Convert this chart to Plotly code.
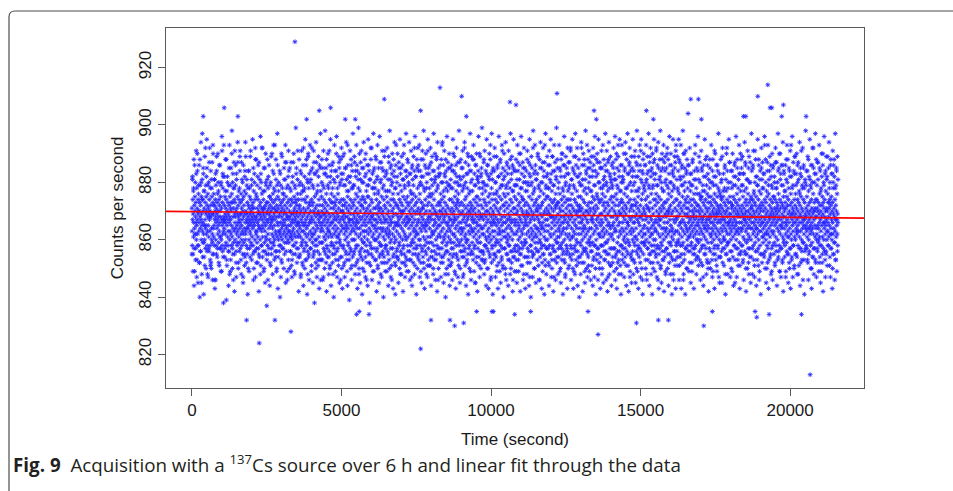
import numpy as np
import plotly.graph_objects as go

# ---------------- data ----------------
T_END = 21600          # seconds (6 h acquisition)
COUNT_BASE = 800       # values below are counts per second minus 800
COUNTS_TEXT = """
71 63 58 82 67 74 55 69 77 61 66 88 44 72 64 49 70 75 62 80 68 57 73 66 91 60 65 78 53 71 67 84 62 69 45 74 58 76 63 70 86 66 52 73 40 68 79 64 56 72 94 67 60 75 69 48 65 81 97 63
66 74 59 70 83 62 41 77 54 71 65 60 89 67 73 57 64 79 69 50 75 62 70 95 85 58 72 63 68 76 47 65 71 80 61 69 56 74 67 92 63 70 58 78 51 72 52 68 81 64 60 75 69 87 62 46 55 73 90 64
69 61 76 65 72 58 81 67 43 70 46 74 68 60 79 66 71 55 84 64 69 73 57 67 62 90 70 65 77 59 68 74 51 63 72 66 86 61 70 57 75 68 49 80 60 71 67 96 65 58 73 62 83 78 54 66 38 63 93 68
64 72 67 57 75 69 62 88 66 71 59 74 39 68 53 77 65 70 82 61 67 73 58 69 44 79 56 72 66 93 60 68 75 63 49 71 67 62 85 70 65 58 76 98 61 73 50 80 55 68 64 71 59 78 87 63 74 42 69 91
73 60 68 79 64 70 56 47 83 62 71 65 58 75 69 63 87 66 72 52 68 61 74 67 59 78 64 89 66 91 57 73 62 69 76 48 65 71 60 81 67 63 74 55 70 45 62 86 68 59 72 64 77 51 69 54 84 66 94 63
62 70 76 58 67 64 81 69 55 73 66 41 78 68 50 72 65 84 60 71 67 57 75 63 69 89 62 66 74 59 70 65 79 53 68 72 61 67 95 64 58 73 69 46 77 66 71 56 83 65 68 60 74 92 47 67 63 76 88 52
68 75 63 59 71 66 82 61 69 74 57 65 70 42 87 67 54 72 64 78 60 69 96 73 51 68 80 63 71 58 76 65 67 92 61 70 64 56 74 69 49 85 66 71 59 68 77 63 45 72 65 90 61 79 67 55 73 37 69 81
70 58 66 73 62 78 67 55 71 64 86 60 69 75 44 52 68 72 65 80 59 70 66 74 57 67 90 62 71 64 48 76 68 61 73 93 83 58 69 65 71 60 77 67 54 74 63 70 88 62 68 56 72 50 79 61 97 66 75 43
65 71 60 77 68 63 74 56 69 84 62 40 72 58 66 79 61 70 53 73 64 68 89 60 71 65 57 76 67 62 74 69 50 66 81 63 70 59 72 65 87 93 61 67 75 56 69 64 78 62 71 49 46 73 68 60 82 65 91 63
59 67 74 63 70 85 61 68 56 72 65 77 62 69 51 74 66 47 60 80 67 63 73 55 69 87 64 70 58 75 66 62 71 48 68 78 61 67 73 99 59 83 69 65 72 57 70 63 76 66 91 61 68 54 74 42 62 79 65 71
72 64 55 69 84 61 76 48 67 70 58 91 63 74 66 52 79 68 60 86 65 44 71 63 77 57 69 82 74 50 66 62 95 70 59 67 73 53 88 64 61 75 41 68 80 56 71 65 90 62 54 78 69 46 83 66 73 60 93 67
63 70 57 81 66 49 74 68 92 61 72 85 59 67 45 73 64 78 55 70 87 62 69 38 75 66 58 83 71 63 52 68 94 60 76 65 47 72 84 69 56 64 79 51 70 89 67 61 74 43 66 86 59 72 53 68 97 63 77 65
68 59 75 64 88 70 53 66 72 46 79 63 69 91 57 74 61 83 67 50 71 65 98 60 73 55 68 85 62 76 42 70 58 66 82 64 54 72 90 67 61 78 48 69 86 63 56 74 65 51 80 68 95 62 71 44 66 84 59 73
61 73 66 52 78 69 87 64 58 71 40 67 75 62 93 68 55 80 65 72 49 63 84 70 59 67 96 74 61 47 69 82 64 57 76 68 53 71 89 62 66 85 45 73 60 79 67 54 70 88 63 58 74 92 65 50 81 68 43 72
70 64 83 58 67 74 51 69 90 62 72 47 66 79 60 85 68 56 73 63 94 65 71 53 77 61 68 44 75 86 64 59 70 82 66 55 72 39 67 80 62 91 69 57 74 50 65 88 71 63 46 78 60 84 67 54 73 97 64 69
66 72 55 79 63 89 68 60 74 48 70 84 65 57 76 62 93 67 52 71 86 64 43 69 75 58 81 66 99 61 73 50 68 83 64 56 77 45 70 62 87 67 54 74 91 60 72 65 41 80 68 53 75 63 85 59 71 94 66 49
74 61 69 56 82 67 73 47 65 90 70 58 77 63 52 68 86 71 60 44 75 66 95 62 79 55 69 84 64 72 38 67 59 81 70 51 63 88 66 74 57 92 68 46 73 61 83 65 54 78 69 97 62 71 49 67 85 60 76 64
65 78 60 71 53 67 88 63 74 42 69 81 57 66 93 72 50 64 76 61 85 68 45 70 59 73 96 62 55 67 80 64 48 71 87 66 58 75 52 69 91 63 78 56 70 84 61 40 68 74 54 66 89 72 60 82 67 49 77 63
71 58 67 84 62 75 49 69 92 64 56 73 66 81 44 70 61 87 68 53 77 63 98 65 59 72 85 67 47 74 60 79 66 51 83 70 90 62 57 68 76 43 71 64 88 55 69 82 61 94 66 52 73 41 78 65 86 60 72 54
63 69 80 57 72 66 90 54 68 76 45 71 62 85 67 59 74 50 65 95 70 61 83 56 73 68 48 77 64 89 52 69 72 60 86 66 42 75 63 81 58 70 93 55 67 79 62 47 74 84 65 51 71 97 60 68 82 53 66 73
68 75 58 66 87 61 72 49 79 64 94 70 56 67 83 46 73 62 77 53 69 91 65 59 71 85 44 68 74 60 81 66 52 76 63 89 70 57 64 84 48 72 67 96 61 55 75 69 82 62 41 73 65 88 58 70 50 78 66 92
62 71 84 67 55 74 60 93 69 47 76 64 58 80 70 52 66 88 63 73 45 68 79 57 91 65 71 54 82 67 61 98 72 50 64 77 43 69 86 60 74 56 66 90 63 70 48 78 65 83 59 72 51 67 95 61 75 53 68 85
73 66 59 78 64 86 70 51 68 92 61 75 44 67 81 56 72 63 89 69 54 76 62 84 48 71 65 97 58 74 67 53 80 63 90 70 46 66 82 60 77 55 69 88 64 72 42 68 94 61 79 57 65 85 50 73 67 83 62 70
65 57 72 83 68 61 76 47 70 88 63 54 74 66 93 59 69 80 52 71 64 86 45 67 75 60 91 68 55 73 82 62 70 40 66 78 58 84 69 50 72 96 63 56 77 65 87 48 71 61 79 53 68 90 64 74 44 67 85 60
70 63 81 59 67 74 52 86 65 71 46 78 62 69 95 57 73 66 84 55 70 62 89 68 49 75 61 83 64 72 43 67 77 58 92 71 54 65 80 60 74 87 47 68 63 76 51 70 98 66 59 82 72 45 64 79 56 69 88 62
66 73 60 85 69 54 77 63 91 70 58 67 82 48 72 64 79 56 68 94 61 74 51 66 87 62 71 44 75 59 69 83 65 53 78 67 90 60 72 41 68 86 63 57 76 70 50 65 84 62 97 73 55 69 80 46 71 64 89 67
72 59 68 77 63 88 55 70 66 93 61 74 49 67 83 58 71 64 45 79 69 86 62 73 52 66 90 60 75 68 42 81 65 57 72 84 63 96 70 54 67 78 61 47 74 65 89 59 69 82 50 72 64 85 56 68 99 62 76 53
64 71 56 80 67 62 87 74 48 69 58 91 65 73 53 77 61 84 68 44 72 60 95 66 57 79 63 86 70 50 67 75 43 82 64 59 73 90 69 55 76 62 88 66 46 71 83 60 68 52 97 65 74 58 81 63 41 70 85 67
69 76 61 55 72 84 66 92 63 58 74 47 68 80 54 71 65 89 60 77 51 67 73 86 62 43 70 59 82 66 96 64 75 56 69 49 78 62 88 71 45 67 60 83 74 53 65 93 68 57 79 63 85 50 72 66 40 76 61 90
63 70 82 57 68 75 50 66 94 61 73 46 79 64 87 59 71 55 67 83 62 76 44 69 91 65 58 72 85 53 68 61 78 48 74 97 64 56 70 81 66 52 89 63 73 60 86 42 67 77 54 71 95 62 69 84 57 75 49 66
71 65 58 79 67 88 62 53 74 69 45 81 63 93 70 56 66 84 72 60 49 76 64 90 68 57 73 86 61 42 67 78 55 71 96 63 59 75 83 66 51 70 62 87 69 46 74 64 80 58 92 68 54 72 65 85 60 43 77 67
66 59 73 84 62 70 48 77 65 91 57 68 80 54 72 63 87 69 44 75 61 95 66 52 71 82 58 67 40 79 64 89 70 56 74 85 60 68 47 76 63 98 69 55 72 83 61 50 67 78 65 93 59 73 86 62 45 70 81 64
74 61 68 56 83 70 64 90 59 72 51 67 79 63 46 75 66 88 60 71 54 69 94 62 77 57 65 85 72 43 68 80 58 73 49 66 92 64 55 76 69 84 61 41 70 87 63 53 74 67 97 60 78 65 48 71 82 57 69 89
60 67 75 63 86 70 52 78 65 44 72 91 58 69 81 62 55 74 68 95 61 83 47 71 64 77 50 66 89 73 57 68 84 42 70 62 79 56 93 67 74 53 65 87 60 71 46 76 63 82 68 99 59 72 54 66 85 61 73 48
69 73 57 64 80 67 93 61 71 49 76 65 84 58 70 45 68 88 62 74 53 66 90 72 59 78 63 41 70 86 64 56 75 68 96 60 82 52 73 67 47 79 62 89 69 55 71 64 85 57 74 43 66 92 61 77 50 68 83 72
65 78 62 70 55 87 67 60 74 91 58 69 46 72 81 64 53 76 68 95 61 85 50 71 66 43 79 63 89 70 57 74 83 62 48 67 97 65 56 73 86 60 69 51 77 64 92 59 72 44 68 82 62 75 54 70 88 66 40 71
72 64 59 83 68 75 48 70 62 94 66 55 79 71 86 60 67 42 74 63 90 69 57 77 52 65 88 73 61 45 68 81 64 98 56 70 84 62 50 76 67 93 59 72 47 66 85 63 54 78 69 91 60 73 49 64 82 71 58 87
61 70 77 56 67 89 64 73 51 68 82 59 75 44 66 92 62 71 86 54 69 79 47 74 63 96 58 70 84 65 41 72 60 88 67 53 76 64 90 57 71 83 46 68 62 95 74 55 66 80 50 73 87 61 69 43 78 65 85 58
67 74 58 69 85 63 50 76 66 93 61 72 45 79 64 88 56 70 82 62 53 75 68 97 59 71 84 46 67 80 63 91 55 73 65 42 77 69 87 60 72 52 66 94 62 78 48 70 83 57 74 64 89 51 68 81 61 44 75 86
71 62 79 65 54 73 87 68 60 92 66 75 49 70 83 57 64 96 72 46 69 81 63 55 76 90 67 43 74 85 59 68 52 78 65 89 61 72 48 84 70 56 66 95 63 77 51 73 86 62 41 69 80 58 74 93 64 53 71 82
66 73 57 81 68 63 90 70 47 76 61 85 67 54 72 94 59 69 78 64 44 71 88 62 56 75 66 97 60 83 51 73 65 42 79 68 86 58 70 92 63 49 74 67 84 55 71 62 89 45 77 64 53 68 82 60 95 72 66 48
63 70 84 59 74 66 52 80 68 91 61 72 45 77 64 87 56 69 73 98 60 67 49 82 71 58 75 43 66 89 62 78 54 70 93 65 57 86 72 47 68 81 63 95 59 74 50 69 84 61 76 41 67 88 64 55 71 90 62 79
70 65 58 77 69 86 62 74 50 67 93 60 72 81 46 68 64 89 57 75 53 71 84 63 97 66 59 78 44 70 87 61 73 55 68 92 64 82 48 76 67 58 85 62 41 71 90 65 52 79 69 83 60 74 95 56 66 88 63 49
64 72 60 83 67 55 76 91 63 70 47 79 66 86 58 73 52 68 94 62 75 43 69 81 65 57 88 71 61 98 67 50 74 84 59 70 45 78 64 90 56 72 85 62 68 53 77 93 60 71 42 66 87 73 54 80 69 89 63 48
73 61 68 85 64 57 79 70 92 66 50 74 62 88 69 44 76 59 83 71 96 63 55 67 80 48 72 65 90 58 75 86 61 69 41 77 64 53 84 70 95 60 73 46 67 82 62 78 56 89 66 51 71 87 63 43 74 93 68 59
67 74 56 70 89 63 78 51 68 84 60 72 95 65 46 76 62 87 69 54 73 81 58 66 93 71 43 64 79 61 86 70 52 75 67 98 59 82 63 48 72 90 66 55 77 69 85 62 41 74 65 91 57 71 83 64 50 68 88 60
69 63 75 58 71 86 66 61 73 49 68 80 64 92 70 56 67 77 62 45 74 83 65 59 72 68 52 79 63 70 88 66 57 74 61 69 43 76 64 84 71 55 67 90 62 73 58 81 65 70 48 68 85 63 76 60 54 72 66 96
72 65 59 70 81 67 62 76 53 69 87 64 71 46 74 60 68 91 63 57 75 66 84 70 51 67 79 62 73 44 68 86 65 58 72 61 77 95 64 69 55 74 82 66 60 71 48 67 89 63 76 52 70 65 83 59 73 68 42 75
64 71 67 57 78 62 85 69 73 50 66 75 61 93 68 59 72 64 80 47 70 66 88 63 55 74 69 60 82 71 65 43 76 67 58 90 62 73 53 68 79 64 86 70 61 49 75 66 72 84 57 69 63 97 71 54 67 77 60 45
70 62 76 66 54 72 88 64 69 59 74 81 67 45 71 63 92 68 57 75 65 83 61 70 51 73 67 78 60 86 64 69 41 72 66 55 77 63 90 70 58 74 62 84 68 48 71 65 80 59 73 95 66 53 69 87 62 75 64 47
67 73 60 69 84 63 71 56 78 65 49 72 90 66 61 75 68 44 70 82 64 58 74 67 87 62 53 71 79 65 69 96 60 73 66 47 76 63 85 70 57 68 72 51 64 81 69 62 93 74 59 66 43 71 83 68 55 77 64 88
63 70 66 79 58 72 64 89 69 52 75 61 68 83 46 71 65 77 60 94 67 73 55 69 86 63 70 42 74 66 59 81 72 64 50 68 91 62 76 57 70 85 65 48 73 67 61 80 54 69 87 64 71 45 75 60 68 97 66 72
71 64 57 74 68 85 62 70 91 66 53 76 63 69 47 73 80 65 59 72 88 67 61 75 44 70 64 82 68 56 79 62 95 71 66 51 74 60 86 69 63 77 49 72 67 58 84 65 70 41 76 63 92 68 55 73 81 66 61 87
66 72 61 78 64 70 55 83 68 62 96 74 67 50 71 65 88 60 73 45 69 77 63 58 75 84 66 52 70 93 62 68 43 76 64 81 59 72 67 89 61 54 74 69 86 65 48 71 63 79 57 70 90 66 73 46 68 85 62 75
69 63 75 67 59 82 71 65 52 74 68 92 61 70 78 56 66 87 73 44 69 64 80 60 72 97 67 54 76 63 85 70 58 68 49 74 65 90 62 71 83 47 67 73 57 79 64 86 69 53 72 61 94 66 42 75 68 60 84 71
64 70 77 58 68 73 86 62 66 49 71 81 65 59 75 93 67 55 72 63 88 69 45 74 61 78 66 52 70 84 64 57 72 91 68 43 76 62 69 82 60 73 54 67 96 65 71 47 79 63 87 58 70 66 50 74 83 61 68 89
72 66 60 76 69 55 83 64 71 90 62 67 48 74 80 65 58 70 87 63 73 51 68 77 61 94 66 72 44 69 85 63 57 75 68 82 60 71 53 66 79 64 92 70 46 67 74 59 86 65 62 78 41 73 68 56 81 69 64 98
65 71 58 68 84 63 75 61 70 53 66 89 72 64 46 77 60 69 82 67 56 73 95 62 70 79 65 50 68 86 63 74 43 71 66 59 80 64 92 69 54 76 62 85 70 48 67 73 57 83 65 71 61 97 68 52 74 64 88 60
68 74 62 57 71 87 65 70 81 59 73 64 49 69 93 66 61 76 54 72 84 67 45 70 63 78 58 68 90 65 72 52 75 61 86 69 42 73 66 80 60 71 96 64 56 74 68 83 62 47 70 77 65 55 89 67 71 60 82 63
70 63 76 66 58 73 85 68 61 94 71 65 51 74 80 62 69 47 72 88 64 57 75 67 83 60 70 43 73 66 91 62 78 55 69 86 64 71 59 82 68 46 74 63 97 67 53 72 79 61 70 84 65 49 76 62 89 69 58 66
"""

# further readings picked out of the outer parts of the cloud (same 6 h span)
COUNTS_TEXT_OUTER = """
55 81 49 78 57 86 62 53 83 47 90 58 79 70 52 88 56 80 45 74 54 85 59 77 51 92 65 82 56 48 79 57 87 68 53 84 50 78 59 93 55 72 81 46 83 58 89 54 76 80 52 86 57 61 79 49 91 56 82 67
82 54 77 58 88 51 80 63 56 85 48 79 53 73 90 57 83 46 78 55 66 86 52 81 59 94 50 77 56 84 69 53 87 58 80 47 75 55 82 60 89 52 79 57 64 84 49 78 54 91 58 81 71 55 85 50 80 56 88 62
57 79 52 86 55 64 81 48 83 58 92 54 77 71 50 85 56 80 60 53 88 46 82 57 75 79 51 89 55 67 84 59 78 53 93 56 81 49 70 86 54 80 58 63 83 47 90 52 78 57 76 85 55 81 45 87 59 68 79 53
84 50 78 56 87 61 53 82 58 90 49 79 55 74 85 52 81 57 66 88 54 80 47 83 59 77 51 92 56 78 65 53 86 58 81 48 89 55 72 80 57 84 51 62 79 54 91 56 83 60 50 87 58 77 53 82 69 55 85 46
53 80 59 85 47 78 56 69 83 52 88 57 79 63 54 91 50 82 58 76 86 55 48 81 57 73 84 53 90 56 78 61 51 87 59 80 46 83 54 70 89 57 79 52 64 85 55 81 49 93 58 77 53 67 82 56 86 51 78 60
79 56 87 51 82 58 66 84 53 78 48 90 55 81 72 57 85 50 80 59 63 88 54 83 46 79 56 75 86 52 81 58 92 55 68 78 49 84 57 80 53 89 60 56 82 51 77 71 54 87 58 81 47 85 55 64 79 52 91 57
58 83 52 77 55 89 62 50 81 57 86 46 80 54 74 84 59 78 51 93 56 82 65 53 87 58 79 48 85 55 70 81 57 90 52 78 61 54 84 49 88 56 80 67 53 83 58 76 47 86 55 79 59 92 51 82 63 57 85 54
86 53 79 60 84 49 82 56 71 88 52 78 58 65 85 55 80 47 91 57 83 51 76 54 87 59 79 62 50 84 56 81 69 53 89 58 78 46 82 55 73 86 52 80 57 94 54 77 61 83 48 88 56 80 59 66 85 51 79 55
51 78 57 84 54 90 59 67 80 48 86 55 82 73 53 79 58 87 50 81 64 56 85 47 78 54 92 57 80 60 52 83 55 89 70 58 77 49 84 56 81 63 53 88 57 79 45 86 54 75 82 59 80 51 90 56 68 83 53 78
80 55 88 52 79 58 70 83 50 86 56 61 81 54 93 47 78 57 84 66 53 89 55 80 59 76 49 85 56 82 52 63 87 58 79 54 91 51 81 72 57 84 48 78 55 86 60 53 80 58 67 88 50 83 56 77 46 85 54 79
56 84 49 79 58 87 53 65 81 55 90 51 78 57 74 85 48 82 59 80 54 69 88 52 79 56 83 47 86 58 62 80 54 92 55 77 50 84 57 81 71 53 89 56 78 46 85 59 80 64 52 87 55 82 58 93 51 79 57 75
83 57 78 51 86 55 80 68 53 89 58 79 47 84 56 72 81 52 88 59 78 54 63 85 50 82 57 90 55 77 66 53 86 48 80 58 83 56 74 87 51 79 54 92 57 81 61 55 84 49 78 58 89 53 70 82 56 85 52 80
54 79 58 92 52 81 64 56 86 49 78 57 83 70 55 88 51 80 59 85 46 77 56 67 84 53 89 58 79 50 82 55 75 87 57 80 52 62 85 54 91 48 78 58 81 73 53 86 56 79 59 84 47 88 55 65 82 51 80 57
78 52 85 57 81 63 54 88 50 79 56 93 53 82 69 58 77 48 86 55 80 60 52 84 57 90 51 78 66 55 83 59 87 47 80 54 72 85 56 79 53 89 58 61 82 50 86 55 77 57 84 68 52 91 56 80 46 83 59 78
59 86 53 80 48 83 57 71 79 55 89 52 84 62 56 78 50 87 58 81 74 54 92 57 79 46 85 55 67 82 51 80 58 88 53 77 64 56 84 49 81 57 90 55 78 70 52 86 59 80 54 63 83 48 79 56 85 53 91 58
81 54 77 59 88 51 82 66 55 85 58 79 46 90 53 80 57 73 84 50 78 56 86 61 52 83 58 79 49 87 55 68 81 57 93 53 78 60 54 84 51 89 56 80 75 52 85 58 77 47 82 55 64 88 57 79 53 86 50 81
52 88 56 80 62 53 84 49 79 57 91 55 82 69 51 86 58 78 47 83 54 75 80 56 89 52 77 60 57 85 48 81 55 92 59 78 66 53 87 56 80 50 84 72 54 79 58 86 45 82 57 63 88 53 78 55 83 51 90 56
85 58 79 53 83 67 56 87 50 78 55 81 60 52 89 57 80 74 54 84 48 86 58 77 51 91 56 82 64 53 79 57 88 46 81 55 71 85 52 78 59 83 54 93 56 80 62 50 87 57 79 53 84 68 55 82 49 78 58 86
55 80 51 87 58 78 71 53 84 56 90 49 81 57 65 86 52 79 59 83 54 77 47 88 56 80 61 55 85 50 82 57 93 53 78 69 58 84 51 89 55 79 63 54 86 48 81 57 76 83 52 91 56 78 59 85 53 67 80 57
79 57 84 52 88 55 64 81 58 78 50 86 54 92 57 80 70 53 83 47 79 56 87 60 52 85 58 77 49 82 55 90 57 79 66 53 84 56 81 51 89 58 73 78 54 86 57 62 83 50 80 55 88 59 78 53 85 67 56 81
"""

# isolated high readings (time in s, counts per second)
HIGH_TIMES = [378, 1080, 1538, 3445, 3836, 4258, 4638, 5128, 5462, 6432, 7648, 8295, 9020, 9175,
              10635, 10836, 12207, 13445, 13522, 15194, 15428, 16589, 16679, 16933, 17034,
              18439, 18518, 18919, 19254, 19331, 19387, 19720, 19776, 20535]
HIGH_COUNTS = [903, 906, 903, 929, 902, 905, 906, 902, 902, 909, 905, 913, 910, 903,
               908, 907, 911, 905, 902, 905, 902, 904, 909, 909, 902,
               903, 903, 910, 914, 906, 906, 903, 907, 903]

# isolated low readings (time in s, counts per second)
LOW_TIMES = [1828, 2251, 2776, 3311, 5506, 5596, 5920, 7648, 7993, 8629, 8785, 9087, 9521,
             10033, 10078, 10793, 11328, 13244, 13579, 14861, 15595, 15930, 17113, 17401,
             18829, 18885, 19298, 20380, 20669]
LOW_COUNTS = [832, 824, 832, 828, 834, 835, 834, 822, 832, 832, 830, 831, 835,
              835, 835, 834, 835, 835, 827, 831, 832, 832, 830, 835,
              835, 833, 834, 834, 813]

# linear fit through the data
FIT_INTERCEPT = 869.8
FIT_SLOPE = -0.0001

X_TICKS = [0, 5000, 10000, 15000, 20000]
Y_TICKS = [820, 840, 860, 880, 900, 920]
X_RANGE = [-866, 22470]
Y_RANGE = [808.35, 933.8]

X_TITLE = "Time (second)"
Y_TITLE = "Counts per second"
CAPTION_LABEL = "Fig. 9"
CAPTION_TEXT = "Acquisition with a <sup>137</sup>Cs source over 6 h and linear fit through the data"

# ---------------- build ----------------
main_counts = np.array([int(v) for v in COUNTS_TEXT.split()]) + COUNT_BASE
main_times = np.linspace(0, T_END, len(main_counts))
outer_counts = np.array([int(v) for v in COUNTS_TEXT_OUTER.split()]) + COUNT_BASE
outer_times = np.linspace(0, T_END, len(outer_counts))

all_t = np.concatenate([main_times, outer_times, HIGH_TIMES, LOW_TIMES])
all_c = np.concatenate([main_counts, outer_counts, HIGH_COUNTS, LOW_COUNTS])

fit_x = np.array(X_RANGE, dtype=float)
fit_y = FIT_INTERCEPT + FIT_SLOPE * fit_x

W, H = 953, 491
L, R, T, B = 166, 864, 28, 388.5

fig = go.Figure()
fig.add_trace(go.Scatter(
    x=all_t, y=all_c, mode="markers",
    marker=dict(symbol="asterisk-open", size=4, color="#2626ff",
                line=dict(color="#2626ff", width=0.85)),
    hoverinfo="skip", showlegend=False))
fig.add_trace(go.Scatter(
    x=fit_x, y=fit_y, mode="lines",
    line=dict(color="#ff0000", width=1.6),
    hoverinfo="skip", showlegend=False))

axis_font = dict(family="Liberation Sans, Arial, sans-serif", size=17, color="#1a1a1a")
common = dict(showgrid=False, zeroline=False, showline=True, mirror=True,
              linecolor="#5a5a5a", linewidth=1, ticks="outside", ticklen=7,
              tickcolor="#5a5a5a", tickwidth=1, tickfont=axis_font)

fig.update_xaxes(range=X_RANGE, tickvals=X_TICKS, ticktext=[str(v) for v in X_TICKS],
                 title=dict(text=X_TITLE, font=axis_font, standoff=13), **common)
fig.update_yaxes(range=Y_RANGE, tickvals=Y_TICKS, ticktext=[str(v) for v in Y_TICKS],
                 tickangle=-90,
                 title=dict(text=Y_TITLE, font=axis_font, standoff=8), **common)


def px(x):
    return (x - L) / (R - L)


def py(y):
    return (B - y) / (B - T)


frame_path = (f"M {px(9)},{py(500)} L {px(9)},{py(17)} "
              f"Q {px(9)},{py(11)} {px(15)},{py(11)} L {px(970)},{py(11)}")
fig.add_shape(type="path", xref="paper", yref="paper", path=frame_path,
              line=dict(color="#4d4d4d", width=1.2), layer="above")

fig.add_annotation(
    xref="paper", yref="paper", x=px(11), y=py(465), xanchor="left", yanchor="middle",
    showarrow=False, align="left",
    text=f"<b>{CAPTION_LABEL}</b>&nbsp;&nbsp;{CAPTION_TEXT}",
    font=dict(family="Open Sans, Noto Sans, sans-serif", size=18.8, color="#231f20"))

fig.update_layout(
    width=W, height=H,
    margin=dict(l=L, r=W - R, t=T, b=H - B, autoexpand=False),
    paper_bgcolor="white", plot_bgcolor="white",
    showlegend=False,
)

fig.write_html("out.html", config={"displayModeBar": False},
               post_script="document.body.style.margin='0';document.body.style.padding='0';")
